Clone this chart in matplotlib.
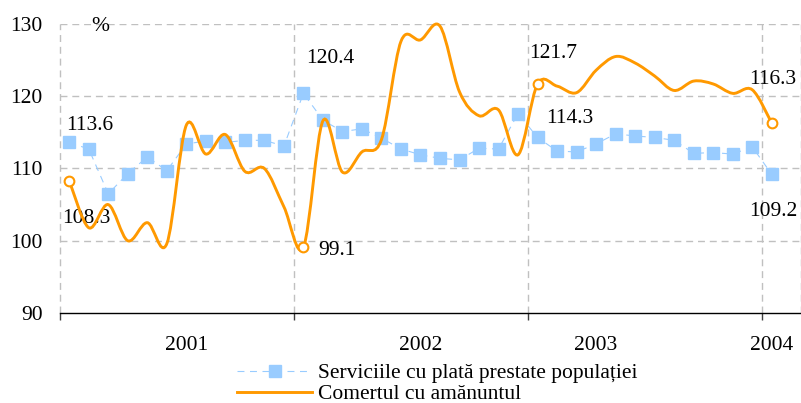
import numpy as np
import matplotlib
matplotlib.use("Agg")
import matplotlib.pyplot as plt
from matplotlib.path import Path
from matplotlib.patches import PathPatch
from matplotlib.lines import Line2D
from matplotlib import transforms

# monthly indices, Jan 2001 .. Jan 2004 (one empty slot after the last month)
services = [113.6, 112.7, 106.5, 109.3, 111.6, 109.7, 113.4, 113.8, 113.6, 113.9, 113.9, 113.1,
            120.4, 116.7, 115.1, 115.5, 114.2, 112.7, 111.9, 111.4, 111.2, 112.8, 112.7, 117.6,
            114.3, 112.4, 112.3, 113.4, 114.8, 114.5, 114.3, 113.9, 112.1, 112.2, 112.0, 113.0,
            109.2]
retail = [108.3, 101.8, 105.0, 100.0, 102.5, 99.6, 116.0, 112.0, 114.7, 109.6, 110.0, 104.7,
          99.1, 116.6, 109.5, 112.3, 114.0, 127.6, 127.8, 129.7, 120.6, 117.3, 118.1, 111.9,
          121.7, 121.4, 120.5, 123.6, 125.5, 124.6, 122.8, 120.8, 122.1, 121.7, 120.4, 120.9,
          116.3]
n_slots = 38
year_labels = ["2001", "2002", "2003", "2004"]
year_label_pos = [6, 18, 27, 36]
year_bounds = [-0.5, 11.5, 23.5, 35.5, 37.5]
marked = [0, 12, 24, 36]

serv_name = "Serviciile cu plată prestate populației"
retail_name = "Comertul cu amănuntul"

c_blue = "#99ccff"
c_orange = "#ff9900"
c_grid = "#c0c0c0"
fs = 15.5

plt.rcParams["font.family"] = ["Liberation Serif", "DejaVu Serif"]
plt.rcParams["lines.scale_dashes"] = False


# Excel-like smoothed line: cubic bezier through each point (catmull-rom tangents)
def smooth_path(x, y):
    n = len(x)
    verts = [(x[0], y[0])]
    codes = [Path.MOVETO]
    for i in range(n - 1):
        a = max(i - 1, 0)
        b = min(i + 2, n - 1)
        c1 = (x[i] + (x[i + 1] - x[a]) / 6, y[i] + (y[i + 1] - y[a]) / 6)
        c2 = (x[i + 1] - (x[b] - x[i]) / 6, y[i + 1] - (y[b] - y[i]) / 6)
        verts += [c1, c2, (x[i + 1], y[i + 1])]
        codes += [Path.CURVE4] * 3
    return Path(verts, codes)


fig = plt.figure(figsize=(8.01, 4.03), dpi=100)
ax = fig.add_axes([59.5 / 801, 1 - 313 / 403, 1 - 59.5 / 801, 289 / 403])

x = np.arange(len(services))
ax.set_xlim(-0.5, n_slots - 0.5)
ax.set_ylim(90, 130)

# grid
for yv in [100, 110, 120, 130]:
    ax.axhline(yv, color=c_grid, lw=1, ls=(0, (5, 3.5)), zorder=0)
for xb in year_bounds:
    ax.axvline(xb, color=c_grid, lw=1, ls=(0, (5, 3.5)), zorder=0, clip_on=False)

ax.plot(x, services, color=c_blue, lw=0.8, ls=(0, (5, 4)), marker="s", ms=8,
        mfc=c_blue, mec=c_blue, zorder=3)

patch = PathPatch(smooth_path(x.astype(float), np.array(retail)), fc="none",
                  ec=c_orange, lw=2.1, zorder=4, clip_on=False)
ax.add_patch(patch)
ax.plot(x[marked], np.array(retail)[marked], ls="none", marker="o", ms=7,
        mfc="white", mec=c_orange, mew=1.5, zorder=5)

# data labels (offsets in points)
def label(i, v, dx, dy, ha="left"):
    ax.annotate(f"{v:.1f}", (i, v), xytext=(dx, dy), textcoords="offset points",
                fontsize=fs, ha=ha, va="center")

label(0, services[0], -2.5, 12)
label(0, retail[0], -5, -27)
label(12, services[12], 2, 25)
label(12, retail[12], 11, -2.5)
label(24, retail[24], -6, 22)
label(24, services[24], 6, 13.5)
label(36, retail[36], -16, 31)
label(36, services[36], -16, -26.5)

ax.text(0.055, 0.99, "%", transform=ax.transAxes, fontsize=fs, ha="center", va="center")

# axes
for s in ["left", "right", "top"]:
    ax.spines[s].set_visible(False)
ax.spines["bottom"].set_color("black")
ax.spines["bottom"].set_linewidth(1)
ax.set_yticks([90, 100, 110, 120, 130])
ax.tick_params(axis="y", length=0, pad=12, labelsize=fs)
ax.set_xticks(year_bounds[:-1])
ax.set_xticklabels([])
ax.tick_params(axis="x", length=5, width=1, color="#404040", direction="out")

trans = transforms.blended_transform_factory(ax.transData, ax.transAxes)
for lab, p in zip(year_labels, year_label_pos):
    ax.text(p, -0.111, lab, transform=trans, fontsize=fs, ha="center", va="center")

handles = [Line2D([], [], color=c_blue, lw=0.8, ls=(0, (5, 4)), marker="s", ms=8,
                  mfc=c_blue, mec=c_blue),
           Line2D([], [], color=c_orange, lw=2.1)]
fig.legend(handles, [serv_name, retail_name], loc="upper left",
           bbox_to_anchor=(237 / 801, 1 - 363 / 403), frameon=False, fontsize=fs,
           handlelength=3.5, handletextpad=0.25, labelspacing=0.05, borderpad=0,
           borderaxespad=0, numpoints=1)

fig.savefig("out.png", dpi=100)
